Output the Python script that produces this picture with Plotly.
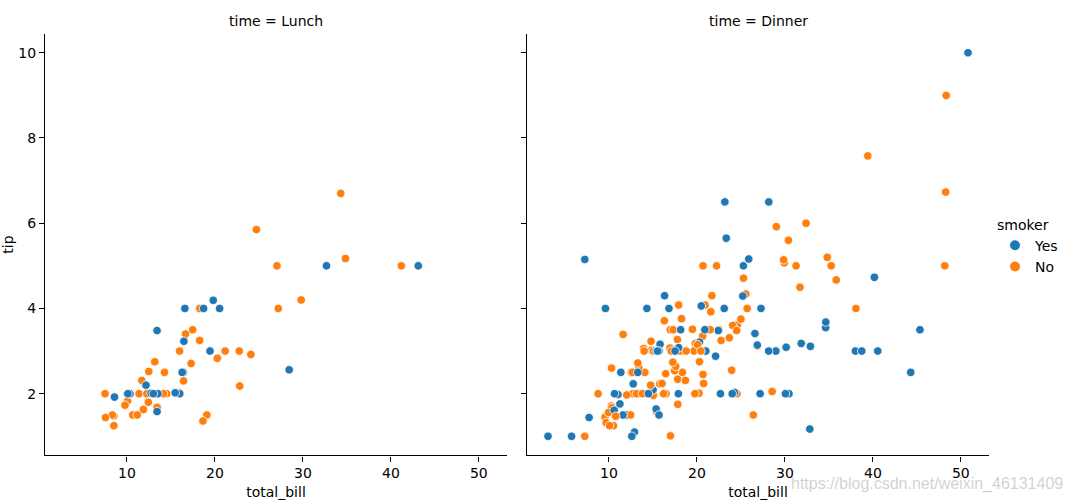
import plotly.graph_objects as go

total_bill = [16.99,10.34,21.01,23.68,24.59,25.29,8.77,26.88,15.04,14.78,10.27,35.26,15.42,18.43,14.83,21.58,10.33,16.29,16.97,20.65,
17.92,20.29,15.77,39.42,19.82,17.81,13.37,12.69,21.70,19.65,9.55,18.35,15.06,20.69,17.78,24.06,16.31,16.93,18.69,31.27,
16.04,17.46,13.94,9.68,30.40,18.29,22.23,32.40,28.55,18.04,12.54,10.29,34.81,9.94,25.56,19.49,38.01,26.41,11.24,48.27,
20.29,13.81,11.02,18.29,17.59,20.08,16.45,3.07,20.23,15.01,12.02,17.07,26.86,25.28,14.73,10.51,17.92,27.20,22.76,17.29,
19.44,16.66,10.07,32.68,15.98,34.83,13.03,18.28,24.71,21.16,28.97,22.49,5.75,16.32,22.75,40.17,27.28,12.03,21.01,12.46,
11.35,15.38,44.30,22.42,20.92,15.36,20.49,25.21,18.24,14.31,14.00,7.25,38.07,23.95,25.71,17.31,29.93,10.65,12.43,24.08,
11.69,13.42,14.26,15.95,12.48,29.80,8.52,14.52,11.38,22.82,19.08,20.27,11.17,12.26,18.26,8.51,10.33,14.15,16.00,13.16,
17.47,34.30,41.19,27.05,16.43,8.35,18.64,11.87,9.78,7.51,14.07,13.13,17.26,24.55,19.77,29.85,48.17,25.00,13.39,16.49,
21.50,12.66,16.21,13.81,17.51,24.52,20.76,31.71,10.59,10.63,50.81,15.81,7.25,31.85,16.82,32.90,17.89,14.48,9.60,34.63,
34.65,23.33,45.35,23.17,40.55,20.69,20.90,30.46,18.15,23.10,15.69,19.81,28.44,15.48,16.58,7.56,10.34,43.11,13.00,13.51,
18.71,12.74,13.00,16.40,20.53,16.47,26.59,38.73,24.27,12.76,30.06,25.89,48.33,13.27,28.17,12.90,28.15,11.59,7.74,30.14,
12.16,13.42,8.58,15.98,13.42,16.27,10.09,20.45,13.28,22.12,24.01,15.69,11.61,10.77,15.53,10.07,12.60,32.83,35.83,29.03,
27.18,22.67,17.82,18.78]

tip = [1.01,1.66,3.50,3.31,3.61,4.71,2.00,3.12,1.96,3.23,1.71,5.00,1.57,3.00,3.02,3.92,1.67,3.71,3.50,3.35,
4.08,2.75,2.23,7.58,3.18,2.34,2.00,2.00,4.30,3.00,1.45,2.50,3.00,2.45,3.27,3.60,2.00,3.07,2.31,5.00,
2.24,2.54,3.06,1.32,5.60,3.00,5.00,6.00,2.05,3.00,2.50,2.60,5.20,1.56,4.34,3.51,3.00,1.50,1.76,6.73,
3.21,2.00,1.98,3.76,2.64,3.15,2.47,1.00,2.01,2.09,1.97,3.00,3.14,5.00,2.20,1.25,3.08,4.00,3.00,2.71,
3.00,3.40,1.83,5.00,2.03,5.17,2.00,4.00,5.85,3.00,3.00,3.50,1.00,4.30,3.25,4.73,4.00,1.50,3.00,1.50,
2.50,3.00,2.50,3.48,4.08,1.64,4.06,4.29,3.76,4.00,3.00,1.00,4.00,2.55,4.00,3.50,5.07,1.50,1.80,2.92,
2.31,1.68,2.50,2.00,2.52,4.20,1.48,2.00,2.00,2.18,1.50,2.83,1.50,2.00,3.25,1.25,2.00,2.00,2.00,2.75,
3.50,6.70,5.00,5.00,2.30,1.50,1.36,1.63,1.73,2.00,2.50,2.00,2.74,2.00,2.00,5.14,5.00,3.75,2.61,2.00,
3.50,2.50,2.00,2.00,3.00,3.48,2.24,4.50,1.61,2.00,10.00,3.16,5.15,3.18,4.00,3.11,2.00,2.00,4.00,3.55,
3.68,5.65,3.50,6.50,3.00,5.00,3.50,2.00,3.50,4.00,1.50,4.19,2.56,2.02,4.00,1.44,2.00,5.00,2.00,2.00,
4.00,2.01,2.00,2.50,4.00,3.23,3.41,3.00,2.03,2.23,2.00,5.16,9.00,2.50,6.50,1.10,3.00,1.50,1.44,3.09,
2.20,3.48,1.92,3.00,1.58,2.50,2.00,3.00,2.72,2.88,2.00,3.00,3.39,1.47,3.00,1.25,1.00,1.17,4.67,5.92,
2.00,2.00,1.75,3.00]

# smoker: Y = Yes, N = No
smoker = list(
"NNNNNNNNNNNNNNNNNNNN"
"NNNNNNNNNNNNNNNNNNNN"
"NNNNNNNNNNNNNNNNYNYN"
"YYYYNNNYNYNNYYNNYNNN"
"YNNYNNNNNNYNYYNYYYYN"
"YYYYNYYYNYNNNNNNNNNN"
"NNNNNNNNNNNNNNNNNNYN"
"NNNNNNNNNNNNNNNNNNNN"
"NNNNYNNNYYYYYYYYYYYY"
"YYYYYNYYYYYYYYYNYYYY"
"YYYYYYYYYYYYNYYYYYYY"
"YYYNYYYNNYYYNNYNYYNN"
"YYNN")

time = (["D"] * 77 + ["L"] * 13 + ["D"] * 27 + ["L"] * 33 + ["D"] * 41
        + ["L"] * 15 + ["D"] * 14 + ["L"] * 7 + ["D"] * 16 + ["D"])

panels = ["Lunch", "Dinner"]
smoker_levels = ["Yes", "No"]
colors = {"Y": "#1f77b4", "N": "#ff7f0e"}
x_ticks = [10, 20, 30, 40, 50]
y_ticks = [2, 4, 6, 8, 10]

FONT = "DejaVu Sans, Verdana, sans-serif"
W, H = 1072, 500
doms = [[45 / W, 507 / W], [527 / W, 989 / W]]

fig = go.Figure()

for i, p in enumerate(panels):
    key = p[0]
    idx = [k for k in range(len(total_bill)) if time[k] == key]
    fig.add_trace(go.Scatter(
        x=[total_bill[k] for k in idx],
        y=[tip[k] for k in idx],
        mode="markers",
        marker=dict(size=8.5, color=[colors[smoker[k]] for k in idx],
                    line=dict(color="white", width=0.8)),
        showlegend=False,
        xaxis="x" if i == 0 else "x2",
        yaxis="y" if i == 0 else "y2",
        hoverinfo="x+y",
    ))

for lvl in smoker_levels:
    fig.add_trace(go.Scatter(
        x=[None], y=[None], mode="markers", name=lvl,
        marker=dict(size=9, color=colors[lvl[0]], line=dict(color="white", width=0.8)),
        xaxis="x2", yaxis="y2",
    ))

xr = [min(total_bill), max(total_bill)]
yr = [min(tip), max(tip)]
pad_x = 0.05 * (xr[1] - xr[0])
pad_y = 0.05 * (yr[1] - yr[0])
x_range = [xr[0] - pad_x, xr[1] + pad_x]
y_range = [yr[0] - pad_y, yr[1] + pad_y]

ax_common = dict(showgrid=False, zeroline=False, showline=True, linecolor="black",
                 linewidth=1.1, ticks="outside", ticklen=5, tickwidth=1.1, tickcolor="black",
                 tickfont=dict(family=FONT, size=14, color="black"))

y0 = 1 - 461 / H
y1 = 1 - 34 / H
fig.update_layout(
    width=W, height=H,
    margin=dict(l=0, r=0, t=0, b=0),
    paper_bgcolor="white", plot_bgcolor="white",
    font=dict(family=FONT, size=14, color="black"),
    xaxis=dict(domain=doms[0], range=x_range, tickvals=x_ticks, anchor="y",
               title=dict(text="total_bill", standoff=9, font=dict(size=14)), **ax_common),
    xaxis2=dict(domain=doms[1], range=x_range, tickvals=x_ticks, anchor="y2",
                title=dict(text="total_bill", standoff=9, font=dict(size=14)), **ax_common),
    yaxis=dict(domain=[y0, y1], range=y_range, tickvals=y_ticks, anchor="x",
               title=dict(text="tip", standoff=7, font=dict(size=14)), **ax_common),
    yaxis2=dict(domain=[y0, y1], range=y_range, tickvals=y_ticks, anchor="x2",
                showticklabels=False, **ax_common),
    legend=dict(x=995 / W, y=0.5, xanchor="left", yanchor="middle",
                title=dict(text="smoker", font=dict(family=FONT, size=14)),
                font=dict(family=FONT, size=14), bgcolor="rgba(0,0,0,0)",
                itemsizing="constant"),
    showlegend=True,
)

for i, p in enumerate(panels):
    dom = doms[i]
    fig.add_annotation(text=f"time = {p}", x=(dom[0] + dom[1]) / 2, y=1 - 21 / H,
                       xref="paper", yref="paper", xanchor="center", yanchor="middle",
                       showarrow=False,
                       font=dict(family=FONT, size=14, color="black"))

fig.add_annotation(text="https://blog.csdn.net/weixin_46131409", x=1 - 8 / W, y=0,
                   xref="paper", yref="paper", xanchor="right", yanchor="bottom",
                   showarrow=False, borderpad=0,
                   font=dict(family="Liberation Sans, Arial, sans-serif", size=16,
                             color="rgba(180,180,180,0.6)"))

fig.write_html("out.html")
